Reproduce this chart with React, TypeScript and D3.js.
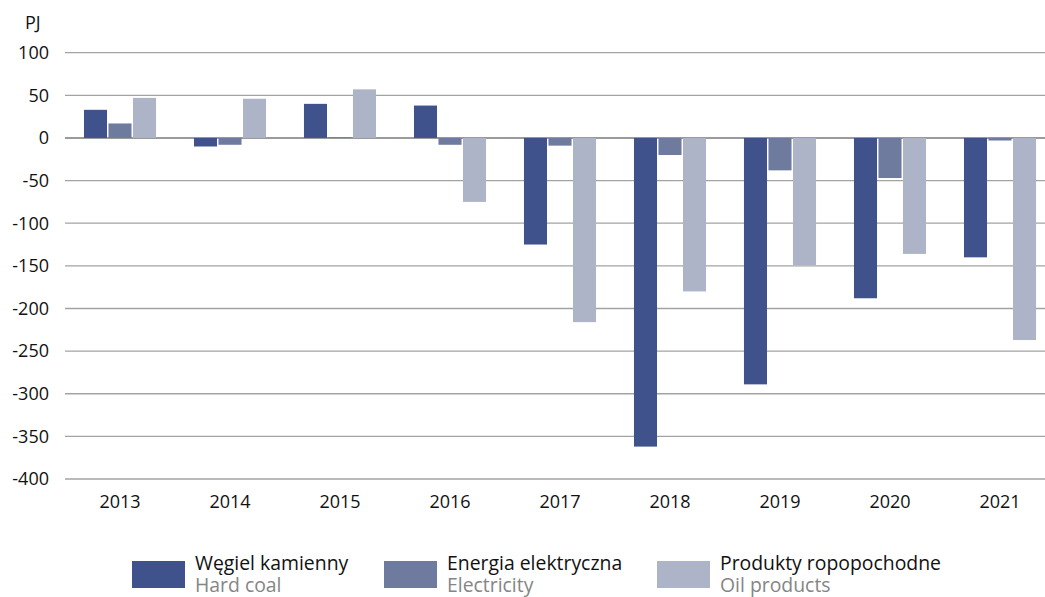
import React from "react";
import * as d3 from "d3";

const years = ["2013", "2014", "2015", "2016", "2017", "2018", "2019", "2020", "2021"];
const hardCoal = [33, -10, 40, 38, -125, -362, -289, -188, -140];
const electricity = [17, -8, 1, -8, -9, -20, -38, -47, -3];
const oilProducts = [47, 46, 57, -75, -216, -180, -149, -136, -237];
const yTicks = [100, 50, 0, -50, -100, -150, -200, -250, -300, -350, -400];

const seriesNames = ["coal", "elec", "oil"];
const seriesColors = ["#3f528c", "#6e7a9e", "#aeb4c8"];
const legendPl = ["Węgiel kamienny", "Energia elektryczna", "Produkty ropopochodne"];
const legendEn = ["Hard coal", "Electricity", "Oil products"];

const W = 1045;
const H = 597;
const font = "'Open Sans', 'Noto Sans', sans-serif";

export default function App() {
  const x = d3.scaleBand().domain(years).range([65, 1055]).paddingInner(0.345).paddingOuter(0.1725);
  const xs = d3.scaleBand().domain(seriesNames).range([0, x.bandwidth()]).paddingInner(0.06);
  const y = d3.scaleLinear().domain([-400, 100]).range([479, 52.7]);

  const series = [hardCoal, electricity, oilProducts];
  const legendX = [132, 384, 657];

  return (
    <div style={{ position: "absolute", left: 0, top: 0 }}>
      <svg width={W} height={H} style={{ display: "block", background: "#fff" }} fontFamily={font}>
        <text x={25} y={29} fontSize={18} fill="#111">PJ</text>
        {yTicks.map((t) => (
          <g key={t}>
            <line
              x1={65}
              x2={W}
              y1={y(t)}
              y2={y(t)}
              stroke={t === 0 ? "#7a7a7a" : "#a3a3a3"}
              strokeWidth={t === 0 ? 1.6 : 1.3}
            />
            <text x={49} y={y(t)} dy="0.35em" textAnchor="end" fontSize={18} fill="#111">
              {t}
            </text>
          </g>
        ))}
        {years.map((yr, i) => (
          <g key={yr} transform={`translate(${x(yr)},0)`}>
            {series.map((s, j) => {
              const v = s[i];
              return (
                <rect
                  key={j}
                  x={xs(seriesNames[j])}
                  width={xs.bandwidth()}
                  y={y(Math.max(0, v))}
                  height={Math.abs(y(v) - y(0))}
                  fill={seriesColors[j]}
                />
              );
            })}
            <text x={x.bandwidth() / 2} y={508} textAnchor="middle" fontSize={18} fill="#111">
              {yr}
            </text>
          </g>
        ))}
        {legendPl.map((name, i) => (
          <g key={name} transform={`translate(${legendX[i]},0)`}>
            <rect x={0} y={561} width={53} height={27} fill={seriesColors[i]} />
            <text x={63} y={570} fontSize={19.4} fill="#111">{name}</text>
            <text x={63} y={592} fontSize={19.4} fill="#858585">{legendEn[i]}</text>
          </g>
        ))}
      </svg>
    </div>
  );
}
